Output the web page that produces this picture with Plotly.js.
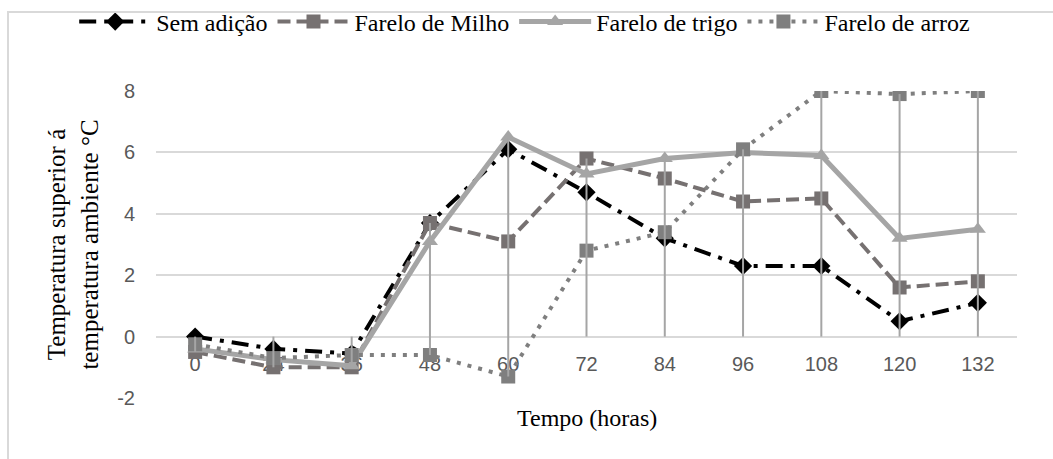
<!DOCTYPE html>
<html>
<head>
<meta charset="utf-8">
<script src="https://cdn.plot.ly/plotly-3.0.1.min.js"></script>
<style>
  html, body { margin: 0; padding: 0; background: #fff; }
  #wrap { position: relative; width: 1053px; height: 459px; overflow: hidden; }
  #chart { position: absolute; left: 0; top: 0; width: 1053px; height: 459px; }
  #frame { position: absolute; left: 7px; top: 11px; width: 2000px; height: 2000px;
           border-left: 2px solid #d9d9d9; border-top: 2px solid #d9d9d9; pointer-events: none; }
</style>
</head>
<body>
<div id="wrap"><div id="chart"></div><div id="frame"></div></div>
<script>
const categories = ['0','24','36','48','60','72','84','96','108','120','132'];
const seriesNames = ['Sem adição', 'Farelo de Milho', 'Farelo de trigo', 'Farelo de arroz'];
const semAdicao   = [0, -0.4, -0.55, 3.7, 6.1, 4.7, 3.2, 2.3, 2.3, 0.5, 1.1];
const fareloMilho = [-0.5, -1.0, -1.0, 3.7, 3.1, 5.8, 5.15, 4.4, 4.5, 1.6, 1.8];
const fareloTrigo = [-0.4, -0.75, -0.95, 3.1, 6.5, 5.3, 5.8, 6.0, 5.9, 3.2, 3.5];
const fareloArroz = [-0.25, -0.7, -0.6, -0.6, -1.3, 2.8, 3.4, 6.1, 8.0, 7.9, 8.0];
const yTicks = [-2, 0, 2, 4, 6, 8];

const allSeries = [semAdicao, fareloMilho, fareloTrigo, fareloArroz];
const styles = [
  {color: '#000000', width: 4, dash: '17px,8px,4px,8px', symbol: 'diamond', msize: 14, mcolor: '#000000'},
  {color: '#767171', width: 4, dash: '13px,6px', symbol: 'square', msize: 14, mcolor: '#767171'},
  {color: '#a5a5a5', width: 5, dash: 'solid', symbol: 'triangle-up', msize: 14, mcolor: '#a5a5a5'},
  {color: '#7f7f7f', width: 4, dash: '4px,7px', symbol: 'square', msize: 14, mcolor: '#7f7f7f'}
];

const traces = allSeries.map((vals, i) => ({
  type: 'scatter', mode: 'lines+markers', name: seriesNames[i],
  x: categories, y: vals,
  line: {color: styles[i].color, width: styles[i].width, dash: styles[i].dash},
  marker: {symbol: styles[i].symbol, size: styles[i].msize, color: styles[i].mcolor}
}));

// drop lines from each point to the horizontal axis (y = 0)
const dx = [], dy = [];
categories.forEach((c, k) => {
  const vals = allSeries.map(s => s[k]);
  dx.push(c, c, null);
  dy.push(Math.min(0, ...vals), Math.max(0, ...vals), null);
});
traces.push({
  type: 'scatter', mode: 'lines', x: dx, y: dy, showlegend: false, hoverinfo: 'skip',
  line: {color: '#a5a5a5', width: 2}
});

const serif = 'Liberation Serif, Times New Roman, serif';
const sans = 'Liberation Sans, Arial, sans-serif';

const layout = {
  width: 1053, height: 459,
  margin: {l: 156, r: 36, t: 91, b: 61, autoexpand: false},
  paper_bgcolor: '#ffffff', plot_bgcolor: '#ffffff',
  showlegend: true,
  legend: {
    orientation: 'h', x: -0.095, xanchor: 'left', y: 1.225, yanchor: 'middle',
    font: {family: serif, size: 24, color: '#000000'},
    itemwidth: 72, traceorder: 'normal'
  },
  xaxis: {
    type: 'category', range: [-0.5, 10.5], anchor: 'free', position: 0.2,
    showgrid: false, showline: false, zeroline: false, ticks: '',
    ticklabelstandoff: 13, layer: 'below traces',
    tickfont: {family: sans, size: 20, color: '#595959'}
  },
  yaxis: {
    range: [-2, 8], tickvals: yTicks, ticktext: yTicks.map(String),
    showgrid: true, gridcolor: '#d9d9d9', gridwidth: 2,
    zeroline: false, showline: false, ticks: '', ticklabelstandoff: 20,
    tickfont: {family: sans, size: 20, color: '#595959'},
    title: {text: 'Temperatura superior á<br>temperatura ambiente °C', standoff: 11,
            font: {family: serif, size: 25, color: '#000000'}}
  },
  annotations: [{
    text: 'Tempo (horas)', xref: 'paper', yref: 'paper', x: 0.5, y: -0.065,
    xanchor: 'center', yanchor: 'middle', showarrow: false,
    font: {family: serif, size: 24, color: '#000000'}
  }]
};

Plotly.newPlot('chart', traces, layout, {displayModeBar: false, staticPlot: true});
</script>
</body>
</html>
